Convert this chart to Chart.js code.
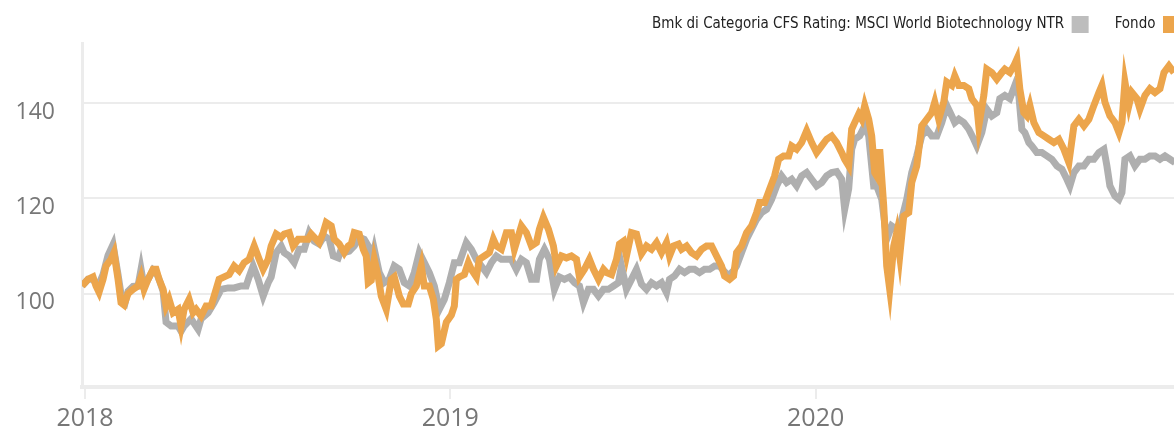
<!DOCTYPE html>
<html>
<head>
<meta charset="utf-8">
<script src="https://cdn.jsdelivr.net/npm/chart.js@4.4.0/dist/chart.umd.min.js"></script>
<style>
  html, body { margin:0; padding:0; background:#fff; overflow:hidden; }
  #wrap { position:relative; width:1206px; height:430px; }
</style>
</head>
<body>
<div id="wrap"><canvas id="chartPerf"></canvas></div>
<script>
// giorni dal 01/01/2018 e valori (base 100)
const fondoDays = [-3,3,8,11,14,18,21,26,29,33,36,39,43,48,53,56,59,63,68,71,74,78,81,84,88,93,96,99,104,108,111,116,121,126,129,134,139,144,149,154,159,164,169,174,178,183,186,
  191,196,199,204,208,213,218,223,226,231,234,238,241,246,249,254,259,263,266,269,274,278,281,283,286,289,293,296,301,306,309,314,318,323,326,331,336,339,344,348,351,353,356,361,366,
  369,371,374,379,383,386,391,394,399,404,408,411,416,421,426,429,433,436,441,446,451,454,458,463,468,471,476,481,486,491,494,499,504,508,513,518,521,526,531,534,538,541,546,551,
  556,561,566,571,576,581,584,588,593,596,601,606,611,616,621,626,631,636,639,644,648,651,656,661,666,671,674,679,684,689,693,698,703,706,711,716,721,726,731,
  736,741,746,751,756,759,763,766,769,773,776,779,783,786,789,791,794,798,801,804,808,811,814,818,823,826,831,836,841,846,849,853,858,861,866,869,873,878,883,886,891,893,898,901,906,911,
  916,919,924,928,931,934,938,941,944,948,953,958,963,968,973,978,983,988,993,998,1003,1008,1013,1016,1019,1024,1029,1033,1036,1039,1043,1046,1051,1054,1059,1064,1069,1074,1078,1083,1088];
const fondoValues = [101.6,103,103.5,101.6,100.3,103,105.8,107.2,108.6,103,98.1,97.6,100,100.9,101.6,103.5,100.9,103,105.1,105.1,103,100.9,97.4,98.8,96,96.7,93.2,96.7,98.8,96,96.7,95.3,97.4,97.4,99.5,103,103.5,104,105.8,104.8,106.5,107.2,110,107.2,105.1,107.2,110,
  112.5,111.8,112.5,112.8,110,111.4,111.4,111.4,112.5,111.4,110.7,112.8,114.9,114.2,111.4,110.4,108.6,110,110.4,112.8,112.5,109.3,107.9,102.3,102.8,107.2,103.5,99.5,96.7,103,103.5,99.5,97.8,97.8,100,101.6,105.8,101.6,101.6,98.8,94.6,89,89.5,94,95.5,
  97.4,103,103.5,104,106.5,105.1,103.5,107.2,107.9,108.6,111.4,110,109.3,112.8,112.8,109.3,112.1,114.2,112.8,110,110.7,113.5,116,113.5,110,105.8,107.9,107.5,107.9,107.2,103.5,105.1,107.2,105.1,103,105.1,104.4,104,107.2,110.4,111,107.9,112.8,112.5,
  108.4,110,109.3,110.7,108.6,110.7,107.9,110,110.4,109.3,110,108.6,107.9,109.3,110,110,107.9,105.8,103.7,103,103.7,108.6,110,112.8,114.2,117,119.1,119.1,121.9,124.7,128.2,128.9,128.9,131,130.3,131.7,134.2,131.7,129.6,
  131,132.4,133.1,131.7,129.6,128.2,126.8,134.5,135.9,137.7,136.6,139.5,136.6,133.1,125.4,124.7,130.3,118.4,105.8,100.9,110,112.8,107.9,116.3,117,123.3,126.8,135.2,136.6,138,140.2,136.6,140.2,144.4,143.7,145.7,143.7,143.7,143,140.9,139.5,135.2,141.6,147.1,146.4,145,
  146.4,147.1,146.4,147.8,149.2,142.9,138,137.3,139.5,135.9,133.8,133.1,132.4,131.7,132.4,130.3,127.5,135.2,136.6,135.2,136.6,139.5,142.2,143.7,140.2,137.3,135.9,133.8,135.9,144.4,139.5,142.2,140.9,138.7,141.6,143,142.2,143,146.4,147.8,146.4];

const bmkDays = [-3,3,8,13,18,23,28,33,37,40,43,48,53,56,59,63,68,71,74,78,81,86,93,96,99,106,113,116,123,129,136,143,149,156,161,164,168,173,178,183,186,
  191,196,199,204,209,214,219,224,229,234,239,244,248,253,256,259,264,269,274,279,283,286,289,294,299,304,309,314,319,324,329,334,339,344,349,354,359,364,
  369,374,381,386,391,396,401,406,411,416,421,426,431,436,441,446,451,454,459,464,469,474,479,484,489,494,498,503,508,513,518,523,528,533,536,541,546,551,
  556,561,566,571,576,581,584,589,594,599,604,609,614,619,624,629,634,638,643,648,651,656,661,666,671,676,681,686,691,696,701,706,711,716,721,726,731,
  736,741,746,751,756,759,763,766,769,774,779,783,788,791,796,801,806,811,816,821,826,831,836,841,846,851,856,861,866,869,873,878,883,888,891,896,901,906,911,
  914,919,924,929,933,936,939,943,946,951,956,961,966,971,976,981,984,988,993,998,1003,1008,1013,1018,1021,1024,1029,1033,1036,1039,1044,1049,1054,1059,1064,1069,1074,1079,1084,1089];
const bmkValues = [101.6,103,103,101.5,104,108,110.3,104,98.5,98,100.5,101.5,101.6,105.1,101.5,103,105,104.5,103,100.5,94,93.2,93.2,92.1,93.2,94.7,92.5,94.7,96,98.1,100.9,101.2,101.2,101.6,101.6,103.5,105.8,103,99.5,102.3,103.5,
  108.6,110,108.6,107.9,106.5,109.3,109.3,112.8,111,110.4,112.1,111.4,107.9,107.5,109.3,108.6,108.9,110,111.8,111.4,110,106.5,109.3,104.4,102.3,103,105.8,105.1,102.3,101.6,104.4,108.6,106.5,104.4,101.6,96.7,98.8,102.3,
  106.5,106.5,110.7,109.3,107.2,105.8,104.4,106.5,107.9,107.2,107.2,107.2,105.1,107.2,106.5,103,103,107.2,109.3,107.2,100.9,103.5,103,103.5,102.3,101.6,98.1,100.9,100.9,99.5,100.9,100.9,101.6,102.3,105.8,100.9,103,105.1,
  102,100.9,102.3,101.6,102.3,100.2,103,103.7,105.1,104.4,105.1,105.1,104.4,105.1,105.1,105.8,105.8,104.8,103.7,104.8,105.8,108.6,111.4,113.5,115.6,117,117.7,119.8,122.6,124.7,123.3,124,122.6,124.7,125.4,124,122.6,
  123.3,124.7,125.4,125.6,124,117.7,122,130.3,132.4,133.1,135.2,133.1,122.6,122.6,119.8,111.4,114.2,113.5,115.6,119.8,125.4,128.9,133.1,134.5,133.1,133.1,135.9,139.5,137.3,135.9,136.6,135.9,134.5,132.4,131,133.8,138.7,137.3,138,
  140.9,141.6,140.9,143.7,141.6,134.5,133.8,131.7,131,129.6,129.6,128.9,128.2,126.8,126.1,124,122.6,125.4,126.8,126.8,128.2,128.2,129.6,130.3,126.8,122.6,120.5,119.8,121.2,128.2,128.9,126.8,128.2,128.2,128.9,128.9,128.2,128.9,128.2,127.5];

const yTicks = [100, 120, 140];
const yMin = 80.4, yMax = 152.6;
const xTickDays = [0, 365, 730];
const xTickLabels = ['2018', '2019', '2020'];

const toPoints = (days, vals) => days.map((d, i) => ({ x: d, y: vals[i] }));

new Chart(document.getElementById('chartPerf'), {
  type: 'line',
  data: {
    datasets: [
      { label: 'Fondo', data: toPoints(fondoDays, fondoValues),
        borderColor: '#eca54c', backgroundColor: '#eca54c', borderWidth: 7, pointRadius: 0, tension: 0, fill: false },
      { label: 'Bmk di Categoria CFS Rating: MSCI World Biotechnology NTR', data: toPoints(bmkDays, bmkValues),
        borderColor: '#afafaf', backgroundColor: '#bdbdbd', borderWidth: 7, pointRadius: 0, tension: 0, fill: false }
    ]
  },
  options: {
    responsive: true, maintainAspectRatio: false, animation: false,
    layout: { padding: { top: -10, left: 0, right: 0, bottom: 0 } },
    plugins: {
      legend: { position: 'top', align: 'start', rtl: true, textDirection: 'ltr',
        labels: { boxWidth: 17, boxHeight: 17, padding: 26, color: '#222',
          font: { family: "'Liberation Sans Narrow', 'DejaVu Sans Condensed', sans-serif", size: 15 },
          generateLabels: chart => Chart.defaults.plugins.legend.labels.generateLabels(chart)
            .map(l => Object.assign(l, { lineWidth: 0, strokeStyle: 'transparent' })) } },
      tooltip: { enabled: false }
    },
    scales: {
      x: { type: 'linear', min: -3, max: 1120,
        afterBuildTicks: ax => { ax.ticks = xTickDays.map(v => ({ value: v })); },
        afterFit: ax => { ax.height = 43; },
        grid: { drawOnChartArea: false, drawTicks: true, tickLength: 12, color: '#ececec', lineWidth: 2 },
        border: { display: true, color: '#ececec', width: 4 },
        ticks: { padding: 5, color: '#777', maxRotation: 0, autoSkip: false,
          font: { family: "'Open Sans', sans-serif", size: 25 },
          callback: v => { const i = xTickDays.indexOf(v); return i >= 0 ? xTickLabels[i] : null; } } },
      y: { min: yMin, max: yMax,
        afterBuildTicks: ax => { ax.ticks = yTicks.concat([yMax]).map(v => ({ value: v })); },
        afterFit: ax => { ax.width = 82; },
        grid: { drawTicks: false, color: '#ececec', lineWidth: 2 },
        border: { display: true, color: '#ececec', width: 3 },
        ticks: { padding: 27, labelOffset: 9, color: '#777',
          font: { family: "'Open Sans', sans-serif", size: 23 },
          callback: v => yTicks.includes(v) ? String(v) : null } }
    }
  }
});
</script>
</body>
</html>
